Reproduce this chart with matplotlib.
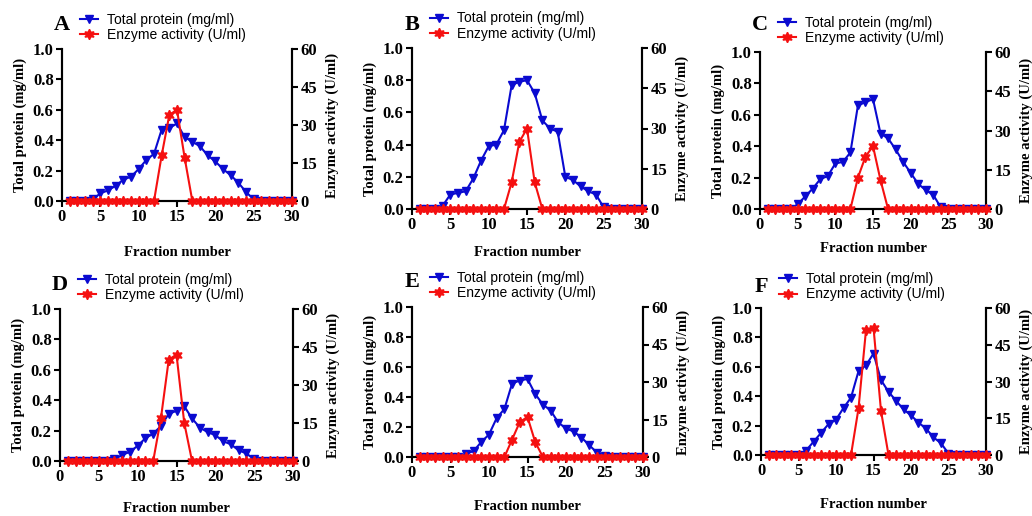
import matplotlib
matplotlib.use("Agg")
import matplotlib.pyplot as plt
import numpy as np

fractions = list(range(1, 31))

protein_A = [0, 0, 0, 0.01, 0.05, 0.07, 0.10, 0.14, 0.16, 0.21, 0.27, 0.31, 0.47, 0.48, 0.51,
             0.42, 0.39, 0.36, 0.30, 0.26, 0.21, 0.17, 0.12, 0.06, 0.01, 0, 0, 0, 0, 0]
enzyme_A = [0]*12 + [18, 34, 36, 17] + [0]*14

protein_B = [0, 0, 0, 0.02, 0.09, 0.10, 0.11, 0.19, 0.30, 0.39, 0.40, 0.49, 0.77, 0.79, 0.80,
             0.72, 0.55, 0.50, 0.48, 0.20, 0.18, 0.14, 0.11, 0.09, 0.01, 0, 0, 0, 0, 0]
enzyme_B = [0]*12 + [10, 25, 30, 10] + [0]*14

protein_C = [0, 0, 0, 0, 0.03, 0.08, 0.13, 0.19, 0.21, 0.29, 0.30, 0.36, 0.66, 0.68, 0.70,
             0.48, 0.45, 0.38, 0.30, 0.23, 0.16, 0.12, 0.09, 0.01, 0, 0, 0, 0, 0, 0]
enzyme_C = [0]*12 + [12, 20, 24, 11] + [0]*14

protein_D = [0, 0, 0, 0, 0, 0, 0.01, 0.04, 0.06, 0.10, 0.15, 0.18, 0.23, 0.31, 0.33,
             0.36, 0.28, 0.22, 0.19, 0.17, 0.13, 0.11, 0.07, 0.05, 0.01, 0, 0, 0, 0, 0]
enzyme_D = [0]*12 + [17, 40, 42, 15] + [0]*14

protein_E = [0, 0, 0, 0, 0, 0, 0.02, 0.04, 0.10, 0.15, 0.26, 0.32, 0.49, 0.51, 0.52,
             0.42, 0.35, 0.31, 0.23, 0.19, 0.17, 0.13, 0.08, 0.03, 0.01, 0, 0, 0, 0, 0]
enzyme_E = [0]*12 + [7, 14, 16, 6] + [0]*14

protein_F = [0, 0, 0, 0, 0, 0.03, 0.09, 0.15, 0.21, 0.24, 0.32, 0.39, 0.57, 0.61, 0.69,
             0.51, 0.43, 0.37, 0.31, 0.27, 0.22, 0.18, 0.12, 0.08, 0.01, 0, 0, 0, 0, 0]
enzyme_F = [0]*12 + [19, 51, 52, 18] + [0]*14

panel_letters = ["A", "B", "C", "D", "E", "F"]
proteins = [protein_A, protein_B, protein_C, protein_D, protein_E, protein_F]
enzymes = [enzyme_A, enzyme_B, enzyme_C, enzyme_D, enzyme_E, enzyme_F]

left_ticks = [0.0, 0.2, 0.4, 0.6, 0.8, 1.0]
right_ticks = [0, 15, 30, 45, 60]
x_ticks = [0, 5, 10, 15, 20, 25, 30]

# layout in pixels: (left, right, top, bottom, xlabel_y, letter_y)
W, H = 1032, 516
boxes = [
    (62, 292, 49, 201, 252, 25),
    (412, 642, 48, 209, 252, 25),
    (760, 986, 52, 209, 248, 25),
    (60, 293, 309, 461, 508, 285),
    (412, 643, 307, 457, 507, 282),
    (761, 986, 308, 455, 504, 287),
]

serif = ["Liberation Serif", "DejaVu Serif"]
sans = ["Liberation Sans", "DejaVu Sans"]
blue = "#0a0ad0"
red = "#f51010"

fig = plt.figure(figsize=(W/100, H/100), dpi=100)

for i in range(6):
    l, r, t, b, xly, ly = boxes[i]
    ax = fig.add_axes([l/W, 1 - b/H, (r-l)/W, (b-t)/H])
    ax2 = ax.twinx()
    ax.set_zorder(ax2.get_zorder() + 1)
    ax.patch.set_visible(False)
    lp, = ax.plot(fractions, proteins[i], color=blue, lw=1.5, marker="v", ms=5.5,
                  clip_on=False, zorder=3)
    ax_e_vals = [v / 60.0 for v in enzymes[i]]
    le, = ax.plot(fractions, ax_e_vals, color=red, lw=1.5, marker=(6, 1, 0), ms=7.5,
                  clip_on=False, zorder=4)
    ax.set_xlim(0, 30)
    ax.set_ylim(0, 1.0)
    ax2.set_ylim(0, 60)
    ax.set_xticks(x_ticks)
    ax.set_yticks(left_ticks)
    ax.set_yticklabels([f"{v:.1f}" for v in left_ticks])
    ax2.set_yticks(right_ticks)
    for a in (ax, ax2):
        a.spines["top"].set_visible(False)
        for s in a.spines.values():
            s.set_linewidth(1.5)
        a.tick_params(direction="out", length=4, width=1.5, pad=2)
        for lab in a.get_xticklabels() + a.get_yticklabels():
            lab.set_fontfamily(serif)
            lab.set_fontweight("bold")
            lab.set_fontsize(12)
    ax.set_ylabel("Total protein (mg/ml)", fontfamily=serif, fontweight="bold",
                  fontsize=10.5, labelpad=4)
    ax2.set_ylabel("Enzyme activity (U/ml)", fontfamily=serif, fontweight="bold",
                   fontsize=10.5, labelpad=6)
    fig.text((l + r) / 2 / W, 1 - xly / H, "Fraction number", fontfamily=serif,
             fontweight="bold", fontsize=10.5, ha="center", va="center")
    fig.text(l / W, 1 - ly / H, panel_letters[i], fontfamily=serif,
             fontweight="bold", fontsize=16, ha="center", va="center")
    ax.legend([lp, le], ["Total protein (mg/ml)", "Enzyme activity (U/ml)"],
              loc="lower left", bbox_to_anchor=(0.078, 1.045), frameon=False,
              prop={"family": sans, "size": 10}, handlelength=1.3,
              handletextpad=0.65, labelspacing=0.1, borderpad=0, borderaxespad=0)

fig.savefig("out.png", dpi=100)
